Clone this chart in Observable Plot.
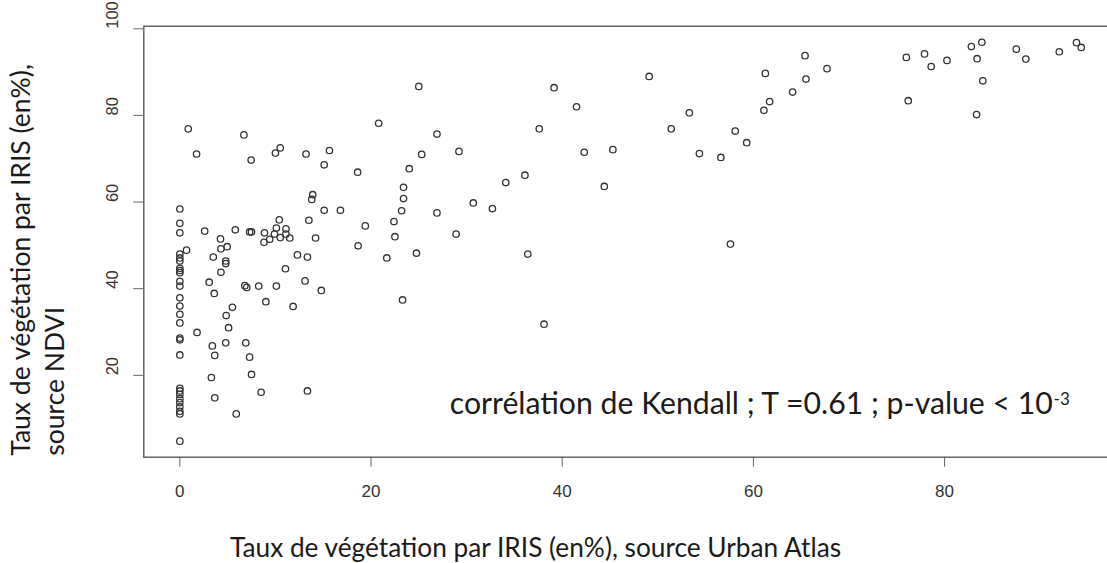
<!DOCTYPE html>
<html><head><meta charset="utf-8">
<script src="https://cdn.jsdelivr.net/npm/d3@7"></script>
<script src="https://cdn.jsdelivr.net/npm/@observablehq/plot@0.6"></script>
<style>
html,body{margin:0;padding:0;background:#fff;overflow:hidden;}
</style></head><body><div id="chart"></div>
<script>
// Taux de végétation par IRIS (%) — Urban Atlas (x) vs NDVI (y)
const urbanAtlas = [
  0,0,0,0,0,0,0,0,0,0,0,0,0,0,0,0,0,0,0,0,0,0,0,0,0,0,0,
  0.88,1.75,6.7,7.46,10.0,10.5,13.2,15.65,15.1,13.9,13.8,15.1,16.8,13.5,14.2,
  2.6,5.8,7.3,7.5,8.85,10.1,10.4,11.1,8.8,9.4,9.9,10.5,11.1,11.5,
  4.25,4.95,4.3,0.7,3.5,4.8,4.8,4.3,3.07,3.6,6.8,7.0,8.25,10.1,9.0,
  12.3,13.35,11.05,13.1,14.8,5.5,11.85,4.85,5.1,1.8,3.4,4.8,6.9,3.65,7.3,
  3.3,7.5,3.65,8.5,13.35,5.9,
  25.0,39.15,41.5,20.8,37.6,26.9,29.2,42.3,25.3,24.0,18.6,23.4,23.4,36.1,34.1,
  30.7,32.7,26.9,23.2,22.4,19.4,22.5,28.9,18.65,21.65,24.75,36.4,23.3,38.1,
  44.4,45.3,49.1,53.3,51.4,54.35,56.6,58.1,59.3,57.6,
  61.25,65.4,67.7,65.5,64.1,61.7,61.1,
  76.0,77.9,78.6,80.25,82.8,83.9,83.4,84.0,76.2,83.35,87.5,88.5,92.0,93.8,94.3
];
const ndvi = [
  58.4,55.1,52.9,48.0,47.1,46.4,44.7,44.2,43.7,41.7,40.6,37.9,36.0,34.1,32.1,28.6,28.2,24.7,
  17.0,16.4,15.6,14.6,13.7,12.7,11.7,11.1,4.8,
  76.9,71.1,75.5,69.7,71.3,72.5,71.1,71.9,68.6,61.7,60.6,58.1,58.1,55.8,51.7,
  53.3,53.6,53.1,53.1,52.9,54.0,55.9,53.8,50.7,51.4,52.6,51.8,52.6,51.7,
  51.5,49.7,49.2,48.9,47.3,46.4,45.8,43.8,41.5,38.9,40.7,40.3,40.6,40.6,37.0,
  47.8,47.3,44.6,41.8,39.6,35.7,35.9,33.8,31.0,29.9,26.8,27.5,27.5,24.6,24.2,
  19.5,20.2,14.8,16.1,16.4,11.1,
  86.7,86.4,82.0,78.2,76.9,75.7,71.7,71.5,71.0,67.7,66.9,63.4,60.8,66.2,64.5,
  59.8,58.5,57.5,58.0,55.5,54.5,52.0,52.6,49.9,47.1,48.2,48.0,37.4,31.8,
  63.6,72.1,89.0,80.6,76.9,71.2,70.3,76.4,73.7,50.3,
  89.7,93.8,90.8,88.4,85.4,83.2,81.2,
  93.4,94.2,91.3,92.7,95.9,96.9,93.1,88.0,83.4,80.2,95.3,93.0,94.7,96.8,95.7
];
const xTicks = [0, 20, 40, 60, 80];
const yTicks = [20, 40, 60, 80, 100];
const xTitle = "Taux de végétation par IRIS (en%), source Urban Atlas";
const yTitle1 = "Taux de végétation par IRIS (en%),";
const yTitle2 = "source NDVI";
const annotation = "corrélation de Kendall ; T =0.61 ; p-value < 10";
const annotationExp = "-3";
const annotationPos = [28.24, 13.35];
const annotationExpPos = [93.1, 14.5];

const tickFont = "'Liberation Sans Narrow', 'Liberation Sans', Arial, sans-serif";
const yTickFont = "'Liberation Sans', Arial, sans-serif";
const textFont = "Lato, 'Open Sans', sans-serif";

const chart = Plot.plot({
  width: 1107,
  height: 563,
  marginLeft: 143.3,
  marginRight: -10.1,
  marginTop: 25.7,
  marginBottom: 106.3,
  style: {background: "#fff"},
  x: {domain: [-3.77, 98.1]},
  y: {domain: [1.1, 100.6]},
  marks: [
    Plot.frame({stroke: "#5a5a5a", strokeWidth: 1.4}),
    Plot.axisX(xTicks, {tickSize: 10, tickPadding: 18, stroke: "#666", fill: "#333", fontSize: 17, fontFamily: tickFont, label: null}),
    Plot.axisY(yTicks, {tickSize: 10, stroke: "#666", tickFormat: () => "", label: null}),
    Plot.text(yTicks, {y: d => d, text: d => String(d), frameAnchor: "left", dx: -31, rotate: -90, fontSize: 16.5, fontFamily: yTickFont, fill: "#333"}),
    Plot.dot(ndvi, {x: urbanAtlas, y: ndvi, r: 3.2, stroke: "#333", strokeWidth: 1.3, fill: "none"}),
    Plot.text([annotation], {x: annotationPos[0], y: annotationPos[1], text: d => d, textAnchor: "start", fontSize: 30.2, fontFamily: textFont, fill: "#1a1a1a"}),
    Plot.text([annotationExp], {x: annotationExpPos[0], y: annotationExpPos[1], text: d => d, textAnchor: "end", fontSize: 17, fontFamily: textFont, fill: "#1a1a1a"}),
    Plot.text([xTitle], {frameAnchor: "bottom-left", dx: 391.7, dy: 91.3, text: d => d, textAnchor: "middle", lineAnchor: "middle", fontSize: 26.25, fontFamily: textFont, fill: "#1a1a1a"}),
    Plot.text([yTitle1], {frameAnchor: "bottom-left", dx: -122.3, dy: -1.5, rotate: -90, text: d => d, textAnchor: "start", lineAnchor: "middle", fontSize: 26.5, fontFamily: textFont, fill: "#1a1a1a"}),
    Plot.text([yTitle2], {frameAnchor: "bottom-left", dx: -88.3, dy: -1.5, rotate: -90, text: d => d, textAnchor: "start", lineAnchor: "middle", fontSize: 26.5, fontFamily: textFont, fill: "#1a1a1a"})
  ]
});
document.getElementById("chart").appendChild(chart);
</script>
</body></html>
